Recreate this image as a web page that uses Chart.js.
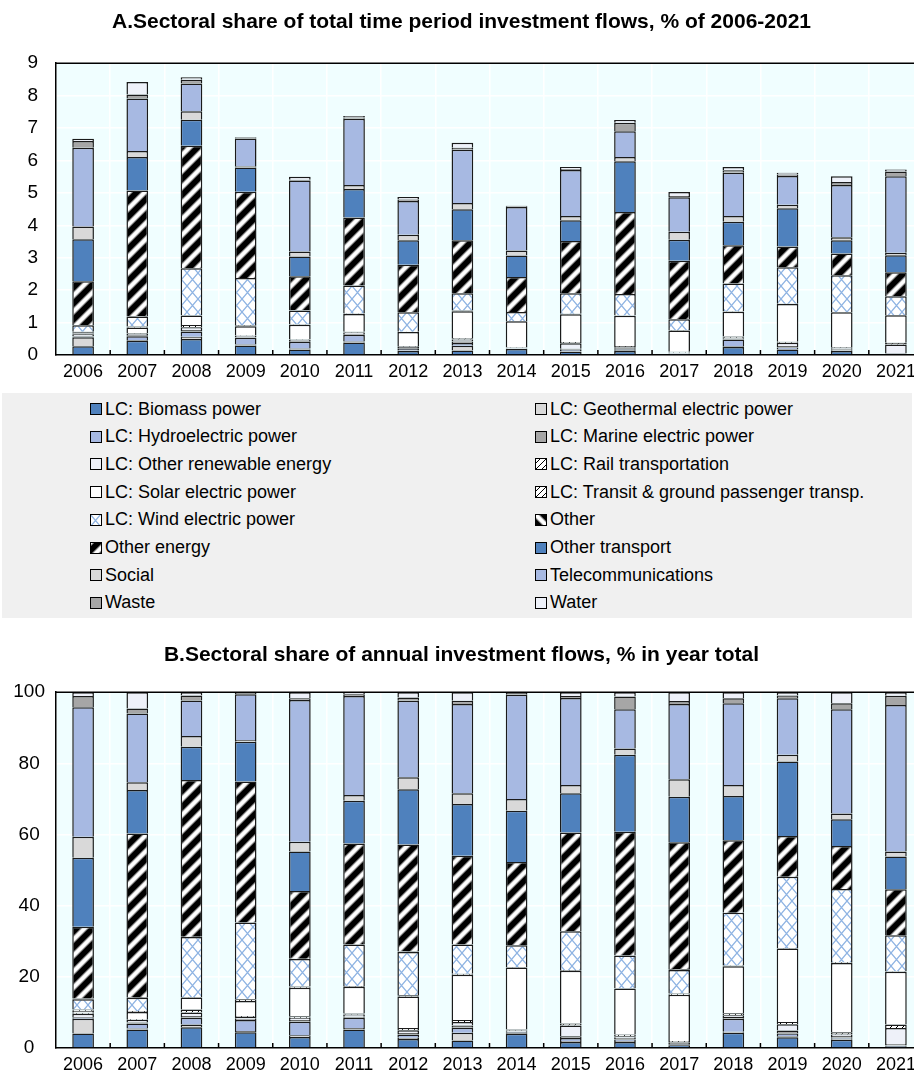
<!DOCTYPE html>
<html>
<head>
<meta charset="utf-8">
<script src="https://cdn.jsdelivr.net/npm/chart.js@4.4.1/dist/chart.umd.min.js"></script>
<style>
  html, body { margin: 0; padding: 0; background: #fff; }
  #wrap { position: relative; width: 914px; height: 1073px; overflow: hidden; }
  #chartA { position: absolute; left: 0; top: 0; }
  #chartB { position: absolute; left: 0; top: 628px; }
  #legend {
    position: absolute; left: 2px; top: 393px; width: 910px; height: 225px;
    background: #f0f0f0;
    font-family: 'Liberation Sans Narrow', 'Arial Narrow', 'Liberation Sans', Arial, sans-serif;
    font-size: 18px; color: #000;
  }
  .item { position: absolute; height: 24px; display: flex; align-items: center; white-space: nowrap; }
  .item canvas { margin-right: 3px; }
</style>
</head>
<body>
<div id="wrap">
  <canvas id="chartA" width="930" height="385"></canvas>
  <div id="legend"></div>
  <canvas id="chartB" width="930" height="445"></canvas>
</div>
<script>
const years = ['2006', '2007', '2008', '2009', '2010', '2011', '2012', '2013',
               '2014', '2015', '2016', '2017', '2018', '2019', '2020', '2021'];

// each year's share of total 2006-2021 flows (%), height of the bars in panel A
const totalFlows = [6.67, 8.42, 8.57, 6.72, 5.50, 7.37, 4.87, 6.55, 4.60, 5.80, 7.25, 5.03, 5.80, 5.62, 5.51, 5.72];

// sector shares in each year's total (%), panel B
const biomassShare        = [4.1, 5.2, 5.8, 4.4, 3.1, 5.2, 2.5, 2.1, 4.0, 1.7, 1.7, 0.8, 4.3, 3.0, 2.3, 0.5];
const geothermalShare     = [4.1, 0.3, 0.8, 0.4, 0.5, 0.4, 0.4, 2.2, 0.2, 0.3, 0.3, 0.1, 0.3, 0.3, 0.3, 0.2];
const hydroShare          = [0.3, 1.4, 1.9, 3.1, 3.8, 2.9, 0.9, 1.4, 0.2, 0.8, 0.4, 0.2, 3.6, 0.8, 0.3, 0.1];
const marineShare         = [0.2, 0.3, 0.5, 0.3, 0.5, 0.3, 0.4, 0.6, 0.2, 0.5, 0.5, 0.3, 0.5, 0.8, 0.5, 0.3];
const otherRenewableShare = [0.9, 0.7, 1.0, 0.5, 0.6, 0.6, 0.8, 1.0, 0.3, 3.0, 0.4, 0.2, 0.5, 1.8, 0.4, 4.5];
const railShare           = [0.3, 0.2, 0.8, 0.3, 0.4, 0.3, 0.6, 0.6, 0.3, 0.6, 0.5, 0.4, 0.6, 0.6, 0.6, 1.0];
const solarShare          = [0.6, 2.0, 3.4, 4.2, 8.0, 7.5, 8.9, 12.7, 17.4, 14.8, 12.9, 13.0, 13.2, 20.7, 19.5, 14.8];
const transitShare        = [0.3, 0.3, 0.1, 0.5, 0.4, 0.2, 0.3, 0.3, 0.2, 0.2, 0.1, 0.3, 0.2, 0.1, 0.2, 0.2];
const windShare           = [2.9, 3.7, 16.9, 21.6, 7.7, 11.7, 12.2, 8.2, 6.1, 10.9, 9.2, 6.6, 14.8, 20.0, 20.6, 10.1];
const otherShare          = [0.2, 0.2, 0.1, 0.0, 0.1, 0.0, 0.1, 0.0, 0.0, 0.0, 0.0, 0.2, 0.0, 0.0, 0.0, 0.0];
const otherEnergyShare    = [20.2, 46.0, 44.0, 39.6, 19.0, 28.4, 30.1, 24.9, 23.4, 27.8, 34.8, 35.7, 20.4, 11.5, 12.1, 12.9];
const otherTransportShare = [19.4, 12.2, 9.4, 11.2, 11.1, 12.0, 15.5, 14.6, 14.4, 11.0, 21.6, 12.8, 12.4, 20.9, 7.5, 9.2];
const socialShare         = [5.9, 2.2, 3.0, 0.5, 2.8, 1.6, 3.4, 3.0, 3.3, 2.3, 1.8, 4.9, 3.1, 1.9, 1.6, 1.4];
const telecomShare        = [36.4, 19.3, 10.0, 12.8, 39.8, 27.8, 21.5, 25.1, 29.3, 24.5, 11.0, 21.2, 23.0, 15.9, 29.3, 41.2];
const wasteShare          = [3.1, 1.4, 1.4, 0.4, 0.5, 0.5, 0.9, 0.9, 0.5, 0.5, 3.6, 0.8, 1.4, 0.8, 1.7, 2.6];
const waterShare          = [1.1, 4.6, 0.9, 0.2, 1.7, 0.6, 1.5, 2.4, 0.2, 1.1, 1.2, 2.5, 1.7, 0.9, 3.1, 1.0];

const seriesNames = [
  'LC: Biomass power', 'LC: Geothermal electric power', 'LC: Hydroelectric power', 'LC: Marine electric power',
  'LC: Other renewable energy', 'LC: Rail transportation', 'LC: Solar electric power',
  'LC: Transit & ground passenger transp.', 'LC: Wind electric power', 'Other', 'Other energy',
  'Other transport', 'Social', 'Telecommunications', 'Waste', 'Water'
];
const seriesShares = [
  biomassShare, geothermalShare, hydroShare, marineShare, otherRenewableShare, railShare, solarShare,
  transitShare, windShare, otherShare, otherEnergyShare, otherTransportShare, socialShare,
  telecomShare, wasteShare, waterShare
];

const FONT = "'Liberation Sans Narrow', 'Arial Narrow', 'Liberation Sans', Arial, sans-serif";

// ---- fills ----
function tile(w, h) {
  const c = document.createElement('canvas');
  c.width = w; c.height = h;
  return c;
}

// soft-edged black/white diagonal stripes, mostly black
function stripes(dir) {
  const s = 16, c = tile(s, s), g = c.getContext('2d');
  const img = g.createImageData(s, s);
  for (let y = 0; y < s; y++) {
    for (let x = 0; x < s; x++) {
      const t = ((dir > 0 ? x + y : x - y + s) % s) / s;
      let v = 0.3 + 0.9 * Math.cos(2 * Math.PI * t);
      v = Math.max(0, Math.min(1, v));
      const k = (y * s + x) * 4, grey = Math.round(255 * v);
      img.data[k] = img.data[k + 1] = img.data[k + 2] = grey;
      img.data[k + 3] = 255;
    }
  }
  g.putImageData(img, 0, 0);
  return g.createPattern(c, 'repeat');
}

function crossHatch() {
  const w = 11, h = 13, c = tile(w, h), g = c.getContext('2d');
  g.fillStyle = '#fff';
  g.fillRect(0, 0, w, h);
  g.strokeStyle = '#8fb4e3';
  g.lineWidth = 1.3;
  g.beginPath();
  g.moveTo(0, 0); g.lineTo(w, h);
  g.moveTo(w, 0); g.lineTo(0, h);
  g.stroke();
  return g.createPattern(c, 'repeat');
}

function hatch() {
  const s = 6, c = tile(s, s), g = c.getContext('2d');
  g.fillStyle = '#fff';
  g.fillRect(0, 0, s, s);
  g.strokeStyle = '#000';
  g.lineWidth = 1;
  g.beginPath();
  g.moveTo(0, s); g.lineTo(s, 0);
  g.stroke();
  return g.createPattern(c, 'repeat');
}

const darkBlue = '#4f81bd', lightBlue = '#a7b9e2', lightGrey = '#d9d9d9', midGrey = '#a6a6a6', pale = '#eef1f9';
const seriesFills = [
  darkBlue, lightGrey, lightBlue, midGrey, pale, hatch(), '#ffffff', hatch(), crossHatch(),
  stripes(-1), stripes(1), darkBlue, lightGrey, lightBlue, midGrey, pale
];

// ---- plugins ----
const frame = {
  id: 'frame',
  beforeDraw(chart) {
    const { ctx, chartArea: a } = chart;
    ctx.save();
    ctx.fillStyle = '#f0feff';
    ctx.fillRect(a.left, a.top, a.right - a.left, a.bottom - a.top);
    ctx.restore();
  },
  afterDraw(chart) {
    const { ctx, chartArea: a, scales: { x } } = chart;
    ctx.save();
    ctx.strokeStyle = '#000';
    ctx.lineWidth = 1.5;
    ctx.beginPath();
    ctx.moveTo(a.left, a.top);
    ctx.lineTo(a.right, a.top);
    for (let i = 1; i < years.length; i++) {
      const bx = (x.getPixelForTick(i - 1) + x.getPixelForTick(i)) / 2;
      ctx.moveTo(bx, a.bottom);
      ctx.lineTo(bx, a.bottom - 5);
    }
    ctx.stroke();
    ctx.restore();
  }
};

function makeChart(id, title, titlePad, datasets, yMax, yStep, yPad, xHeight) {
  return new Chart(document.getElementById(id), {
    type: 'bar',
    data: { labels: years, datasets: datasets },
    options: {
      responsive: false,
      animation: false,
      layout: { padding: { left: 0, right: 7, top: 0, bottom: 0 } },
      plugins: {
        legend: { display: false },
        tooltip: { enabled: false },
        title: {
          display: true,
          text: title,
          color: '#000',
          font: { family: FONT, size: 21, weight: 'bold' },
          padding: titlePad
        }
      },
      scales: {
        x: {
          stacked: true,
          grid: { offset: true, color: '#fff', lineWidth: 1.5, drawTicks: false },
          border: { color: '#000', width: 1.5 },
          ticks: { color: '#000', font: { family: FONT, size: 18 }, padding: 6, maxRotation: 0, autoSkip: false },
          afterFit(s) { s.height = xHeight; }
        },
        y: {
          stacked: true,
          min: 0,
          max: yMax,
          grid: { color: '#fff', lineWidth: 1.5, drawTicks: false },
          border: { color: '#000', width: 1.5 },
          ticks: { stepSize: yStep, color: '#000', font: { family: FONT, size: 19 }, padding: yPad, crossAlign: 'center' },
          afterFit(s) { s.width = 56; }
        }
      }
    },
    plugins: [frame]
  });
}

function buildDatasets(values) {
  return seriesNames.map((name, i) => ({
    label: name,
    data: values[i],
    backgroundColor: seriesFills[i],
    borderColor: '#1a1a1a',
    borderWidth: 1.5,
    barPercentage: 0.4,
    categoryPercentage: 1
  }));
}

// panel A: sector flows as % of the whole 2006-2021 total
const levelValues = seriesShares.map(sh => sh.map((v, j) => v * totalFlows[j] / 100));

const chartA = makeChart('chartA',
  'A.Sectoral share of total time period investment flows, % of 2006-2021',
  { top: 10, bottom: 28 }, buildDatasets(levelValues), 9, 1, 18, 30);

const chartB = makeChart('chartB',
  'B.Sectoral share of annual investment flows, % in year total',
  { top: 15, bottom: 24 }, buildDatasets(seriesShares), 100, 20, 11, 25);

const legend = document.getElementById('legend');
chartA.data.datasets.forEach((ds, i) => {
  const col = i % 2, row = Math.floor(i / 2);
  const item = document.createElement('div');
  item.className = 'item';
  item.style.left = (col === 0 ? 88 : 533) + 'px';
  item.style.top = (4 + row * 27.7) + 'px';
  const icon = document.createElement('canvas');
  icon.width = 12; icon.height = 12;
  const g = icon.getContext('2d');
  g.fillStyle = ds.backgroundColor;
  g.fillRect(0, 0, 12, 12);
  g.strokeStyle = '#000';
  g.lineWidth = 1;
  g.strokeRect(0.5, 0.5, 11, 11);
  const label = document.createElement('span');
  label.textContent = ds.label;
  item.appendChild(icon);
  item.appendChild(label);
  legend.appendChild(item);
});
</script>
</body>
</html>
